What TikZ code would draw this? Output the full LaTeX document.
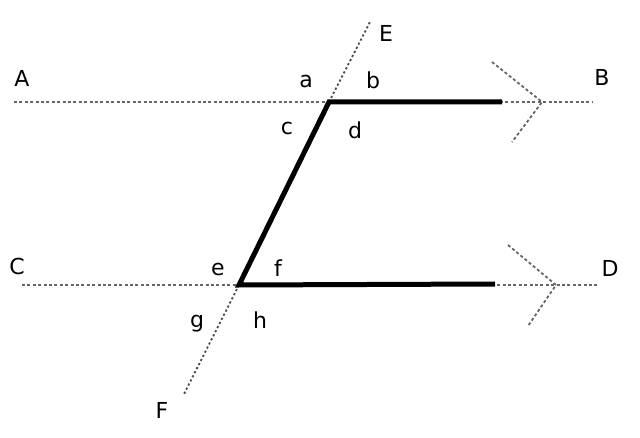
\documentclass[tikz,border=0pt]{standalone}
\usepackage{fontspec}
\setmainfont{DejaVu Sans}
\begin{document}
\begin{tikzpicture}[x=1pt,y=-1pt,
  dotline/.style={draw=black!60, line width=2.2pt, dash pattern=on 3pt off 2.4pt},
  transline/.style={draw=black!70, line width=1.8pt, dash pattern=on 2.2pt off 2.4pt},
  thickline/.style={draw=black, line width=5pt, line join=miter, line cap=butt},
  lbl/.style={font=\fontsize{22}{25}\selectfont, inner sep=0pt, anchor=center}]
\useasboundingbox (0,0) rectangle (640,438);
% points
\coordinate (A0) at (14,102);
\coordinate (B0) at (593,102);
\coordinate (C0) at (22,285);
\coordinate (D0) at (599,285);
\coordinate (P) at (329,102);
\coordinate (Q) at (239,285);
\coordinate (Etop) at (370,22);
\coordinate (Fbot) at (184,394);
\coordinate (Bend) at (502,102);
\coordinate (Dend) at (495,284);
\coordinate (Bt1) at (492,62);
\coordinate (Btip) at (542,102);
\coordinate (Bt2) at (512,142);
\coordinate (Dt1) at (508,245);
\coordinate (Dtip) at (556,285);
\coordinate (Dt2) at (528,326);
% dotted lines
\draw[dotline] (A0) -- (B0);
\draw[dotline] (C0) -- (D0);
\draw[transline] (P) -- (Etop);
\draw[transline] (Q) -- (Fbot);
\draw[dotline, line width=1.8pt] (Bt1) -- (Btip) -- (Bt2);
\draw[dotline, line width=1.8pt] (Dt1) -- (Dtip) -- (Dt2);
% thick shape
\draw[thickline] (Bend) -- (P) -- (Q) -- (Dend);
% labels
\node[lbl] (lA) at (22,78) {A};
\node[lbl] (lB) at (602,77) {B};
\node[lbl] (lC) at (17,266) {C};
\node[lbl] (lD) at (610,268) {D};
\node[lbl] (lE) at (386,33) {E};
\node[lbl] (lF) at (162,410) {F};
\node[lbl] (la) at (306,81) {a};
\node[lbl] (lb) at (373,80) {b};
\node[lbl] (lc) at (287,128) {c};
\node[lbl] (ld) at (355,130) {d};
\node[lbl] (le) at (218,269) {e};
\node[lbl] (lf) at (278,268) {f};
\node[lbl] (lg) at (197,324) {g};
\node[lbl] (lh) at (260,320) {h};
\end{tikzpicture}
\end{document}
